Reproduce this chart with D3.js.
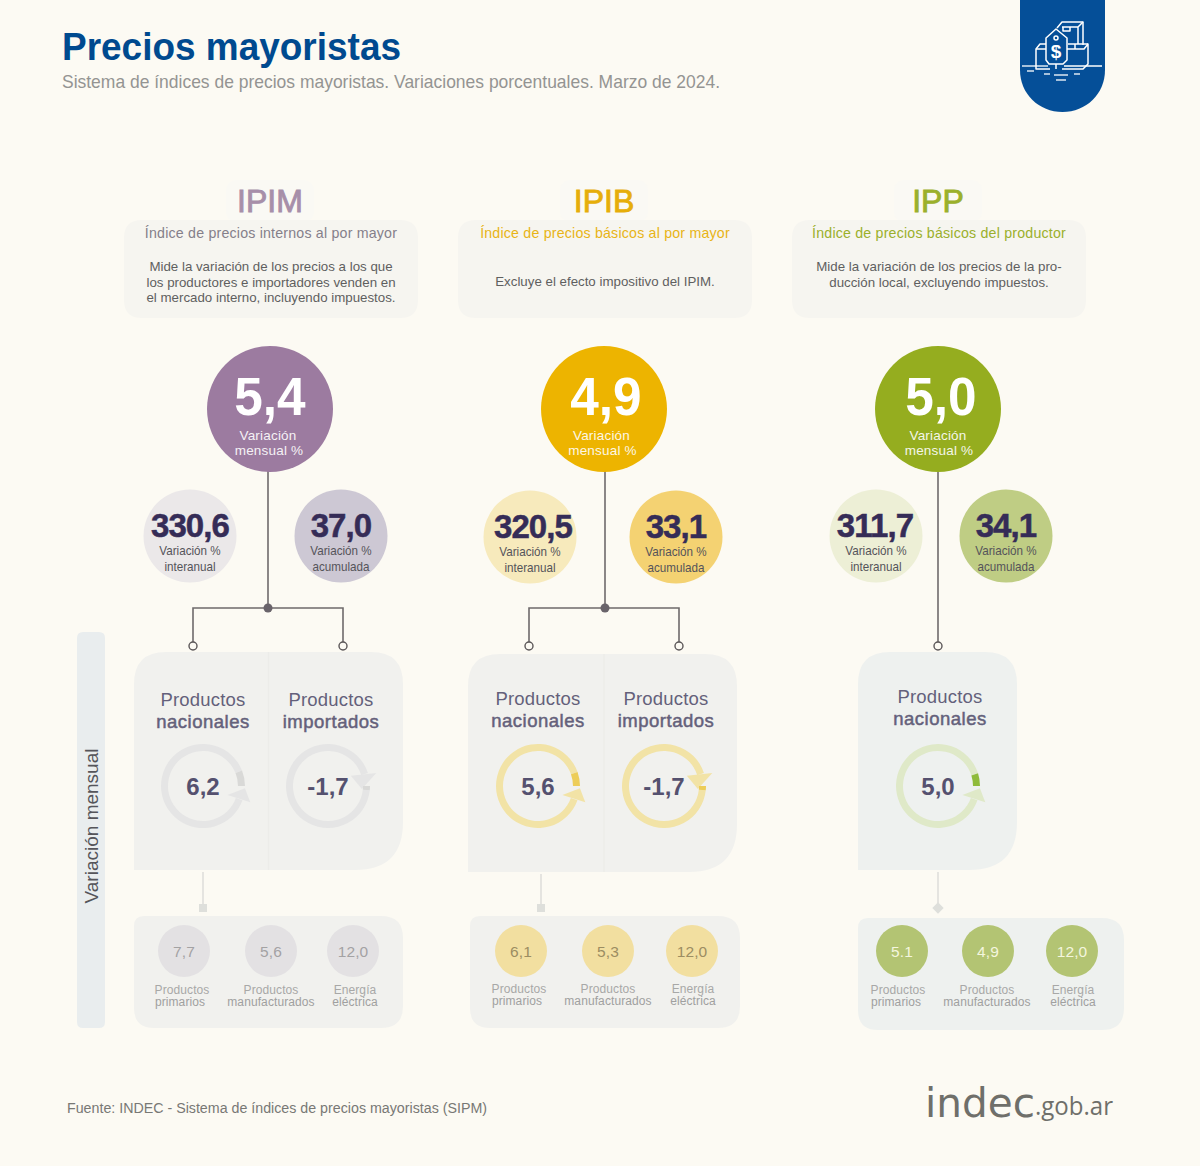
<!DOCTYPE html>
<html lang="es">
<head>
<meta charset="utf-8">
<title>Precios mayoristas</title>
<script src="https://cdn.jsdelivr.net/npm/d3@7"></script>
<style>
  body { margin: 0; background: #fcfaf3; }
  svg { display: block; }
  text { font-family: "Liberation Sans", Arial, sans-serif; }
</style>
</head>
<body>
<div id="chart"></div>
<script>
// data
var indexNames = ["IPIM", "IPIB", "IPP"];
var indexTitles = [
    "Índice de precios internos al por mayor",
    "Índice de precios básicos al por mayor",
    "Índice de precios básicos del productor"
];
var indexNotes = [
    ["Mide la variación de los precios a los que", "los productores e importadores venden en", "el mercado interno, incluyendo impuestos."],
    ["Excluye el efecto impositivo del IPIM."],
    ["Mide la variación de los precios de la pro-", "ducción local, excluyendo impuestos."]
];
var monthly = ["5,4", "4,9", "5,0"];
var yearOnYear = ["330,6", "320,5", "311,7"];
var accumulated = ["37,0", "33,1", "34,1"];
var nationalProducts = ["6,2", "5,6", "5,0"];
var importedProducts = ["-1,7", "-1,7", null];
var primaryProducts = ["7,7", "6,1", "5.1"];
var manufacturedProducts = ["5,6", "5,3", "4,9"];
var electricEnergy = ["12,0", "12,0", "12,0"];
var smallLabels = [["Productos", "primarios"], ["Productos", "manufacturados"], ["Energía", "eléctrica"]];

// layout and colours, one entry per index
var layout = [
    { cx: 270, numX: 270, capX: 268, stem: 268, subs: [190, 341], subY: 536, numShift: [0, 0], branch: [193, 343],
      panel: [134, 403, 652, 870], heads: [203, 331], headY: 706, rings: [203, 328],
      link: 203, low: [134, 403, 916, 1028], dots: [184, 271, 353], lowLabels: [182, 271, 355], labelY: 994 },
    { cx: 604, numX: 606, capX: 601.5, stem: 605, subs: [530, 676], subY: 537, numShift: [3, 0], branch: [529, 679],
      panel: [468, 737, 654, 872], heads: [538, 666], headY: 705, rings: [538, 664],
      link: 541, low: [470, 740, 916, 1028], dots: [521, 608, 692], lowLabels: [519, 608, 693], labelY: 993 },
    { cx: 938, numX: 941, capX: 938, stem: 938, subs: [876, 1006], subY: 536, numShift: [-1, 0], branch: [938],
      panel: [858, 1017, 652, 870], heads: [940], headY: 703, rings: [938],
      link: 938, low: [858, 1124, 918, 1030], dots: [902, 988, 1072], lowLabels: [898, 987, 1073], labelY: 994 }
];
var palette = [
    { main: "#9c7ba0", title: "#a78fa9", subtitle: "#85808a", left: "#ebe8e9", right: "#cdc8d4", ring: "#e5e5e5", tick: "#d9d9d7", dot: "#e3e1e3", dotText: "#a3a2a3" },
    { main: "#edb400", title: "#e6ae0a", subtitle: "#e8b416", left: "#f7eabc", right: "#f4d272", ring: "#f2e3a6", tick: "#edcd58", dot: "#f2dfa0", dotText: "#9c8d62" },
    { main: "#95ad1f", title: "#9bb02c", subtitle: "#9bb02c", left: "#edefd6", right: "#bfcd84", ring: "#dfe9c8", tick: "#8fbb3a", dot: "#b3c473", dotText: "#f4f6de" }
];
var inkDark = "#352c57";
var inkPanel = "#55516f";
var panelFill = ["#f1f1ee", "#f1f1ee", "#eef1ef"];

var svgWidth = 1200;
var svgHeight = 1166;

var svg = d3.select("#chart")
    .append("svg")
    .attr("width", svgWidth)
    .attr("height", svgHeight)
    .attr("viewBox", `0 0 ${svgWidth} ${svgHeight}`);

svg.append("rect").attr("width", svgWidth).attr("height", svgHeight).attr("fill", "#fcfaf3");

function label(parent, x, y, txt, size, fill, opts) {
    opts = opts || {};
    var t = parent.append("text")
        .attr("x", x)
        .attr("y", y)
        .attr("text-anchor", opts.anchor || "middle")
        .attr("font-size", size)
        .attr("font-weight", opts.weight || "normal")
        .attr("letter-spacing", opts.spacing || 0)
        .attr("fill", fill)
        .attr("stroke", opts.stroke || "none")
        .attr("stroke-width", opts.strokeWidth || 0)
        .text(txt);
    if (opts.family) t.style("font-family", opts.family);
    // the original lettering is narrower than the installed fonts
    if (opts.length) {
        t.attr("textLength", opts.length).attr("lengthAdjust", "spacingAndGlyphs");
    } else if (opts.squeeze) {
        t.attr("textLength", t.node().getComputedTextLength() * opts.squeeze).attr("lengthAdjust", "spacingAndGlyphs");
    }
    return t;
}

// box with its own radius per corner: tl, tr, br, bl
function cornerBox(x0, x1, y0, y1, r) {
    var p = d3.path();
    p.moveTo(x0 + r[0], y0);
    p.lineTo(x1 - r[1], y0);
    p.quadraticCurveTo(x1, y0, x1, y0 + r[1]);
    p.lineTo(x1, y1 - r[2]);
    p.quadraticCurveTo(x1, y1, x1 - r[2], y1);
    p.lineTo(x0 + r[3], y1);
    p.quadraticCurveTo(x0, y1, x0, y1 - r[3]);
    p.lineTo(x0, y0 + r[0]);
    p.quadraticCurveTo(x0, y0, x0 + r[0], y0);
    p.closePath();
    return p.toString();
}

// header
label(svg, 62, 60, "Precios mayoristas", 38.5, "#004a8f", { anchor: "start", weight: "bold", length: 339 });
label(svg, 62, 88, "Sistema de índices de precios mayoristas. Variaciones porcentuales. Marzo de 2024.", 17.8, "#949492", { anchor: "start", length: 658 });

// badge with the price tag icon
var badge = svg.append("g");
badge.append("path")
    .attr("d", "M1020,0H1105V70C1105,94 1086,112 1062.5,112C1039,112 1020,94 1020,70Z")
    .attr("fill", "#054f98");
var icon = badge.append("g").attr("fill", "none").attr("stroke", "#fff").attr("stroke-width", 1.5).attr("stroke-linejoin", "round");
[
    "M1057,28L1062,22H1083V45",
    "M1062,27H1078L1083,22M1078,27V44",
    "M1063,27V31H1070V27",
    "M1046,44H1040L1036,49V69H1050",
    "M1036,49H1046",
    "M1067,49H1084L1088,44V64L1083,69H1062",
    "M1068,44H1088M1075,44V49",
    "M1056,29L1067,38V60L1063,64H1049L1046,60V38Z",
    "M1056,64V69"
].forEach(d => icon.append("path").attr("d", d));
icon.append("circle").attr("cx", 1056).attr("cy", 38).attr("r", 2);
label(badge, 1056, 58, "$", 19, "#fff", { weight: "bold" });
[[1022, 1048], [1064, 1102], [1027, 1034], [1044, 1050], [1054, 1068], [1074, 1080], [1056, 1066]].forEach(function (d, i) {
    var y = [66, 66, 71, 74, 75, 74, 80][i];
    badge.append("line")
        .attr("x1", d[0]).attr("x2", d[1])
        .attr("y1", y).attr("y2", y)
        .attr("stroke", "#fff").attr("stroke-width", 1.3);
});

// side band
svg.append("path").attr("d", cornerBox(77, 105, 632, 1028, [6, 6, 6, 6])).attr("fill", "#e9edee");
label(svg, 0, 0, "Variación mensual", 19.2, "#55555a", { length: 155 })
    .attr("transform", "translate(98,826) rotate(-90)");

// ring: how far the dark tick runs per unit of variation
var ringDegrees = d3.scaleLinear().domain([0, 1]).range([0, 3.5]);
var ringArc = d3.arc().innerRadius(35).outerRadius(42);
var toRad = Math.PI / 180;

function polar(r, deg) {
    return [r * Math.sin(deg * toRad), -r * Math.cos(deg * toRad)];
}

function drawRing(parent, x, y, text, colors) {
    var value = +text.replace(",", ".");
    var span = ringDegrees(Math.abs(value));
    var g = parent.append("g").attr("transform", `translate(${x},${y})`);
    var start, end, head;
    if (value >= 0) {
        start = 110; end = 360 + 90 - span;
        head = [polar(26, 110), polar(42, 93), polar(50, 109)];
    } else {
        start = 90 + span; end = 360 + 72;
        head = [polar(25, 66), polar(50, 75), polar(34, 95)];
    }
    g.append("path")
        .attr("d", ringArc({ startAngle: start * toRad, endAngle: end * toRad }))
        .attr("fill", colors.ring);
    g.append("path").attr("d", d3.line()(head) + "Z").attr("fill", colors.ring);
    var tick = value >= 0 ? [90 - span, 90] : [90, 90 + span];
    g.append("path")
        .attr("d", ringArc({ startAngle: tick[0] * toRad, endAngle: tick[1] * toRad }))
        .attr("fill", colors.tick);
    label(g, 0, 9, text, 24, inkPanel, { weight: "bold" });
}

indexNames.forEach(function (name, i) {
    var pos = layout[i];
    var col = palette[i];
    var g = svg.append("g").attr("class", "index-" + name);

    // title block
    g.append("rect").attr("x", pos.cx - 44).attr("y", 180).attr("width", 88).attr("height", 42).attr("rx", 10).attr("fill", "#faf9f4");
    g.append("path").attr("d", cornerBox(pos.cx - 146, pos.cx + 148, 220, 318, [18, 18, 18, 18])).attr("fill", "#f6f5f0");
    label(g, pos.cx, 212, name, 32, col.title, { stroke: col.title, strokeWidth: 0.9 });
    label(g, pos.cx + 1, 238, indexTitles[i], 14.2, col.subtitle, { spacing: 0.2 });
    var notes = indexNotes[i];
    var noteY = notes.length == 1 ? 286 : 271;
    notes.forEach(function (line, k) {
        label(g, pos.cx + 1, noteY + k * 15.6, line, 13.3, "#5f5f5f");
    });

    // connectors go under the circles
    var branchY = 608;
    var wire = g.append("g").attr("stroke", "#6e6a6b").attr("stroke-width", 1.6).attr("fill", "none");
    if (pos.branch.length == 2) {
        wire.append("line").attr("x1", pos.stem).attr("x2", pos.stem).attr("y1", 460).attr("y2", branchY);
        wire.append("path").attr("d", d3.line()([
            [pos.branch[0], 645], [pos.branch[0], branchY], [pos.branch[1], branchY], [pos.branch[1], 645]
        ]));
        g.append("circle").attr("cx", pos.stem).attr("cy", branchY).attr("r", 4.5).attr("fill", "#69636a");
    } else {
        wire.append("line").attr("x1", pos.stem).attr("x2", pos.stem).attr("y1", 460).attr("y2", 645);
    }
    pos.branch.forEach(function (x) {
        g.append("circle").attr("cx", x).attr("cy", 646).attr("r", 4)
            .attr("fill", "#fcfaf3").attr("stroke", "#5b5758").attr("stroke-width", 1.4);
    });

    // monthly circle
    g.append("circle").attr("cx", pos.cx).attr("cy", 409).attr("r", 63).attr("fill", col.main);
    label(g, pos.numX, 415, monthly[i], 54, "#fff", { weight: "bold", squeeze: 0.95 });
    label(g, pos.capX, 440, "Variación", 13.5, "#fff", { spacing: 0.2 }).attr("opacity", 0.9);
    label(g, pos.capX + 1, 455, "mensual %", 13.5, "#fff", { spacing: 0.2 }).attr("opacity", 0.9);

    // year on year and accumulated circles
    [
        { v: yearOnYear[i], fill: col.left, a: "Variación %", b: "interanual" },
        { v: accumulated[i], fill: col.right, a: "Variación %", b: "acumulada" }
    ].forEach(function (d, k) {
        var x = pos.subs[k];
        g.append("circle").attr("cx", x).attr("cy", pos.subY).attr("r", 46.5).attr("fill", d.fill);
        label(g, x + pos.numShift[k], pos.subY + 1, d.v, 33, inkDark, { weight: "bold", spacing: -0.9, stroke: inkDark, strokeWidth: 0.5 });
        label(g, x, pos.subY + 19, d.a, 13.4, "#55545a", { squeeze: 0.87 });
        label(g, x, pos.subY + 35, d.b, 13.4, "#55545a", { squeeze: 0.87 });
    });

    // products panel
    var p = pos.panel;
    g.append("path").attr("d", cornerBox(p[0], p[1], p[2], p[3], [32, 32, 48, 0])).attr("fill", panelFill[i]);
    if (pos.heads.length == 2) {
        var divider = d3.mean(pos.rings) + 3;
        g.append("line").attr("x1", divider).attr("x2", divider).attr("y1", p[2]).attr("y2", p[3])
            .attr("stroke", "#ecece9").attr("stroke-width", 1.5);
    }
    [{ a: "Productos", b: "nacionales", v: nationalProducts[i] },
     { a: "Productos", b: "importados", v: importedProducts[i] }]
        .filter(d => d.v !== null)
        .forEach(function (d, k) {
            var x = pos.heads[k];
            label(g, x, pos.headY, d.a, 18.5, inkPanel, { spacing: 0.2 }).attr("opacity", 0.9);
            label(g, x, pos.headY + 22, d.b, 18.5, inkPanel, { spacing: 0.5, stroke: inkPanel, strokeWidth: 0.5 }).attr("opacity", 0.9);
            drawRing(g, pos.rings[k], 786, d.v, col);
        });

    // link to the lower panel
    g.append("line").attr("x1", pos.link).attr("x2", pos.link).attr("y1", p[3] + 2).attr("y2", 905)
        .attr("stroke", "#d9d9d6").attr("stroke-width", 1.3);
    g.append("rect").attr("x", pos.link - 4).attr("y", 904).attr("width", 8).attr("height", 8)
        .attr("transform", i == 2 ? `rotate(45,${pos.link},908)` : null)
        .attr("fill", "#dedfdb");

    // lower panel with three small circles
    var q = pos.low;
    g.append("path").attr("d", cornerBox(q[0], q[1], q[2], q[3], [10, 22, 22, 20])).attr("fill", panelFill[i]);
    [primaryProducts[i], manufacturedProducts[i], electricEnergy[i]].forEach(function (v, k) {
        var x = pos.dots[k];
        g.append("circle").attr("cx", x).attr("cy", 951).attr("r", 26).attr("fill", col.dot);
        label(g, x, 957, v, 15.5, col.dotText, { spacing: 0.1 });
        label(g, pos.lowLabels[k], pos.labelY, smallLabels[k][0], 12, "#a8a8a7", { spacing: 0.1 });
        label(g, pos.lowLabels[k] - (k == 0 ? 2 : 0), pos.labelY + 12, smallLabels[k][1], 12, "#a0a09f", { spacing: 0.1 });
    });
});

// footer
label(svg, 67, 1113, "Fuente: INDEC - Sistema de índices de precios mayoristas (SIPM)", 14, "#787875", { anchor: "start", length: 420 });
label(svg, 925, 1117, "indec", 41, "#6f6f6a", { anchor: "start", length: 110, family: "DejaVu Sans" });
label(svg, 1035, 1115, ".gob.ar", 25.5, "#6f6f6a", { anchor: "start", length: 78, family: "Open Sans" });
</script>
</body>
</html>
